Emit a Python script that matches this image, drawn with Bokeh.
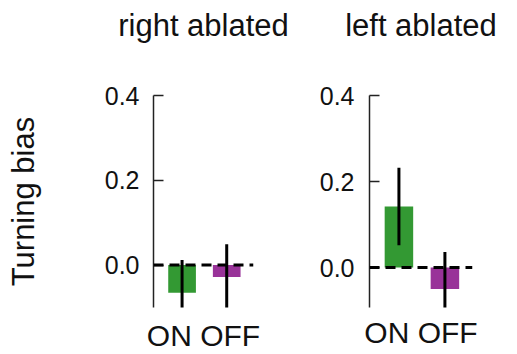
from bokeh.plotting import figure
from bokeh.layouts import row
from bokeh.models import FixedTicker, Span, LinearAxis
from bokeh.embed import file_html
from bokeh.resources import INLINE

conditions = ["ON", "OFF"]
panel_titles = ["right ablated", "left ablated"]
y_label = "Turning bias"
y_ticks = [0.0, 0.2, 0.4]
y_tick_labels = {0.0: "0.0", 0.2: "0.2", 0.4: "0.4"}
right_ablated_mean = [-0.065, -0.028]
right_ablated_err = [0.077, 0.077]
left_ablated_mean = [0.142, -0.050]
left_ablated_err = [0.090, 0.086]
bar_colors = ["#339933", "#993399"]

FONT = "Liberation Sans"
H = 354
TOP = 95
X0, X1 = 0.36, 2.6
Y1 = 0.4
INK = "#111111"


def label_only_axis(ax, text, size, standoff):
    # axis with no line, ticks or tick labels: it only carries its label
    ax.ticker = FixedTicker(ticks=[])
    ax.axis_line_color = None
    ax.major_tick_line_color = None
    ax.minor_tick_line_color = None
    ax.major_tick_in = 0
    ax.major_tick_out = 0
    ax.major_label_standoff = 0
    ax.major_label_text_font_size = "0px"
    ax.axis_label = text
    ax.axis_label_text_font = FONT
    ax.axis_label_text_font_size = size
    ax.axis_label_text_font_style = "normal"
    ax.axis_label_text_color = INK
    ax.axis_label_standoff = standoff
    return ax


def make_panel(title, means, errs, y_start, frame_w, frame_h, border_left, width,
               label_standoff, x_standoff, ylabel=False):
    xs = [1, 2]
    p = figure(width=width, height=H, x_range=(X0, X1), y_range=(y_start, Y1),
               output_backend="svg", toolbar_location=None,
               min_border_left=border_left,
               min_border_right=width - border_left - frame_w,
               min_border_top=TOP, min_border_bottom=H - TOP - frame_h)
    p.outline_line_color = None
    p.grid.visible = False
    p.background_fill_color = "white"
    p.border_fill_color = "white"

    # bars
    p.vbar(x=xs, top=means, bottom=0, width=0.62, fill_color=bar_colors,
           line_color=None)
    # error bars
    lows = [m - e for m, e in zip(means, errs)]
    highs = [m + e for m, e in zip(means, errs)]
    p.segment(x0=xs, x1=xs, y0=lows, y1=highs, line_color="black", line_width=3)
    # zero dashed line
    p.add_layout(Span(location=0, dimension="width", line_color="black",
                      line_width=3, line_dash="10 6"))
    # y axis
    ya = p.yaxis[0]
    ya.ticker = FixedTicker(ticks=y_ticks)
    ya.major_label_overrides = y_tick_labels
    ya.major_tick_in = 10
    ya.major_tick_out = 0
    ya.minor_tick_line_color = None
    ya.axis_line_width = 1.5
    ya.axis_line_color = "#222222"
    ya.major_tick_line_width = 1.5
    ya.major_tick_line_color = "#222222"
    ya.major_label_text_font = FONT
    ya.major_label_text_font_size = "25px"
    ya.major_label_text_color = INK
    ya.major_label_standoff = label_standoff
    if ylabel:
        ya.axis_label = y_label
        ya.axis_label_text_font = FONT
        ya.axis_label_text_font_size = "31px"
        ya.axis_label_text_font_style = "normal"
        ya.axis_label_text_color = INK
        ya.axis_label_standoff = 61

    # x axis: only the condition label
    label_only_axis(p.xaxis[0], " ".join(conditions), "30px", x_standoff)
    # panel title carried by an empty axis above the frame
    p.add_layout(label_only_axis(LinearAxis(), title, "31px", 53), "above")
    return p


p1 = make_panel(panel_titles[0], right_ablated_mean, right_ablated_err, -0.1,
                100, 215, 153, 290, label_standoff=14, x_standoff=11, ylabel=True)
p2 = make_panel(panel_titles[1], left_ablated_mean, left_ablated_err, -0.093,
                103, 218, 79, 227, label_standoff=15, x_standoff=8)

layout = row(p1, p2)
open("out.html", "w").write(file_html(layout, INLINE))
